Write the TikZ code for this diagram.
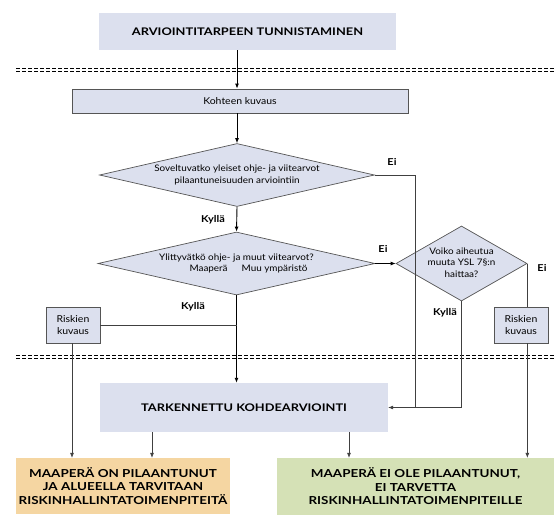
\documentclass[tikz,border=0pt]{standalone}
\usepackage{fontspec}
\setmainfont{Lato}
\newfontfamily\widebold[FakeStretch=1.22]{Lato}
\newfontfamily\widereg[FakeStretch=1.1]{Lato}
\newfontfamily\widelbl[FakeStretch=1.15]{Lato}
\usetikzlibrary{shapes.geometric,arrows.meta}
\definecolor{boxblue}{HTML}{DCE0EE}
\definecolor{boxorange}{HTML}{F5D6A2}
\definecolor{boxgreen}{HTML}{D5E1B6}
\definecolor{linegray}{HTML}{555555}
\tikzset{
  plainbox/.style={rectangle, fill=boxblue, inner sep=0pt, font=\widebold\bfseries\fontsize{10.5}{12}\selectfont},
  framebox/.style={rectangle, draw=linegray, line width=0.8pt, fill=boxblue, inner sep=0pt, font=\widereg\fontsize{9.5}{12}\selectfont, align=center},
  dia/.style={diamond, draw=linegray, line width=0.7pt, fill=boxblue, inner sep=0pt, font=\widereg\fontsize{9}{11.5}\selectfont},
  resbox/.style={rectangle, inner sep=0pt, align=center, font=\widebold\bfseries\fontsize{11}{13.5}\selectfont},
  lbl/.style={font=\widelbl\bfseries\fontsize{9.5}{11}\selectfont, inner sep=0pt},
  mainarrow/.style={line width=0.9pt, -{Latex[length=5pt,width=4pt]}},
  thinline/.style={line width=0.6pt, draw=black!75},
  thinarrow/.style={line width=0.6pt, draw=black!75, -{Latex[length=5pt,width=4pt]}},
  sep/.style={line width=0.8pt, dash pattern=on 3.5pt off 2.5pt}
}
\begin{document}
\begin{tikzpicture}[x=1pt,y=-1pt]
\useasboundingbox (0,0) rectangle (560,520);
% separators
\draw[sep] (16,68.5) -- (555,68.5);
\draw[sep] (16,71.5) -- (555,71.5);
\draw[sep] (16,355.5) -- (555,355.5);
\draw[sep] (16,358.5) -- (555,358.5);
% nodes
\node[plainbox, minimum width=297pt, minimum height=37pt] (top) at (247.5,31.5) {ARVIOINTITARPEEN TUNNISTAMINEN};
\node[framebox, minimum width=336pt, minimum height=24pt] (koh) at (240,101) {Kohteen kuvaus};
\node[dia, minimum width=275pt, minimum height=63pt] (d1) at (237,175)
  {\makebox[0pt]{\begin{tabular}{@{}c@{}}Soveltuvatko yleiset ohje- ja viitearvot\\pilaantuneisuuden arviointiin\end{tabular}}};
\node[dia, minimum width=277pt, minimum height=63pt] (d2) at (236.5,263.5)
  {\makebox[0pt]{\begin{tabular}{@{}c@{}}Ylittyvätkö ohje- ja muut viitearvot?\\\hspace*{24pt}Maaperä\hspace{14pt}Muu ympäristö\end{tabular}}};
\node[dia, minimum width=131pt, minimum height=75pt] (d3) at (461.5,263.5)
  {\makebox[0pt]{\begin{tabular}{@{}c@{}}Voiko aiheutua\\muuta YSL 7§:n\\haittaa?\end{tabular}}};
\node[framebox, minimum width=54pt, minimum height=36pt] (rl) at (73,325) {Riskien\\kuvaus};
\node[framebox, minimum width=54pt, minimum height=36pt] (rr) at (521,325) {Riskien\\kuvaus};
\node[plainbox, minimum width=288pt, minimum height=49pt] (tark) at (244,407.5) {TARKENNETTU KOHDEARVIOINTI};
\node[resbox, fill=boxorange, minimum width=214pt, minimum height=56pt] (ora) at (123,486)
  {MAAPERÄ ON PILAANTUNUT\\JA ALUEELLA TARVITAAN\\RISKINHALLINTATOIMENPITEITÄ};
\node[resbox, fill=boxgreen, minimum width=277pt, minimum height=57pt] (gre) at (415.5,486.5)
  {MAAPERÄ EI OLE PILAANTUNUT,\\EI TARVETTA\\RISKINHALLINTATOIMENPITEILLE};
\coordinate (c415) at (415,407.5);
% labels
\node[lbl] (ei1) at (392,162) {Ei};
\node[lbl] (ky1) at (213,220) {Kyllä};
\node[lbl] (ei2) at (383,249) {Ei};
\node[lbl] (ky2) at (193,307) {Kyllä};
\node[lbl] (ky3) at (445,313) {Kyllä};
\node[lbl] (ei3) at (542,268) {Ei};
% connectors
\draw[mainarrow] (top.south -| d1.north) -- (koh.north -| d1.north);
\draw[mainarrow] (koh.south -| d1.north) -- (d1.north);
\draw[mainarrow] (d1.south) -- (d2.north);
\draw[mainarrow] (d2.south) -- (d2.south |- tark.north);
\draw[mainarrow] (d2.east) -- (d3.west);
\draw[thinline] (rl.east) -- (rl.east -| d2.south);
\draw[thinline] (d1.east) -| (c415);
\draw[thinarrow] (d3.south) |- (tark.east);
\draw[thinline] (d3.east) -- (d3.east |- rr.north);
\draw[thinarrow] (d3.east |- rr.south) -- (d3.east |- gre.north);
\draw[thinarrow] (rl.south -| 72,0) -- (ora.north -| 72,0);
\draw[thinarrow] (tark.south -| 152,0) -- (ora.north -| 152,0);
\draw[thinarrow] (tark.south -| 349,0) -- (gre.north -| 349,0);
\end{tikzpicture}
\end{document}
